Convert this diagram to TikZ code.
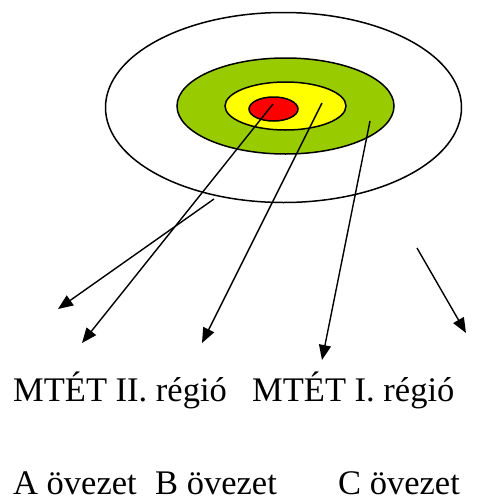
\documentclass[tikz,border=0pt]{standalone}
\usepackage{fontspec}
\setmainfont{Liberation Serif}
\usetikzlibrary{arrows.meta}
\definecolor{zgreen}{RGB}{153,204,0}
\definecolor{zyellow}{RGB}{255,255,0}
\definecolor{zred}{RGB}{255,0,0}
\begin{document}
\begin{tikzpicture}[x=1pt,y=-1pt,
  ring/.style={draw=black,line width=1.5pt},
  arr/.style={line width=1.4pt,-{Triangle[length=15pt,width=12pt]}},
  lbl/.style={anchor=base west,inner sep=0pt,text depth=0pt,font=\fontsize{34.5}{38}\selectfont}]
\useasboundingbox (0,0) rectangle (489,501);
\draw[ring,fill=white] (283.5,107.5) ellipse [x radius=178,y radius=95];
\draw[ring,fill=zgreen] (285.5,106) ellipse [x radius=108.5,y radius=48];
\draw[ring,fill=zyellow] (285.5,106) ellipse [x radius=60.5,y radius=24];
\draw[ring,fill=zred] (273.5,109) ellipse [x radius=24.5,y radius=12];
\coordinate (s1) at (273,104);
\coordinate (s2) at (322,103);
\coordinate (s3) at (370,121);
\coordinate (s4) at (214,199);
\coordinate (s5) at (417,248);
\coordinate (e1) at (82,343);
\coordinate (e2) at (202,343);
\coordinate (e3) at (322,360);
\coordinate (e4) at (58,309);
\coordinate (e5) at (466,333);
\draw[arr] (s1) -- (e1);
\draw[arr] (s2) -- (e2);
\draw[arr] (s3) -- (e3);
\draw[arr] (s4) -- (e4);
\draw[arr] (s5) -- (e5);
\node[lbl] (r2) at (13,401) {MTÉT II. régió};
\node[lbl] (r1) at (252,401) {MTÉT I. régió};
\node[lbl] (za) at (13,494.5) {A övezet};
\node[lbl] (zb) at (155,494.5) {B övezet};
\node[lbl] (zc) at (338,494.5) {C övezet};
\end{tikzpicture}
\end{document}
